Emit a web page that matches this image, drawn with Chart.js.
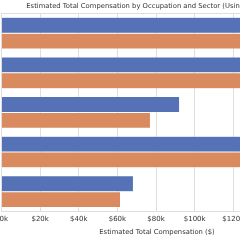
<!DOCTYPE html>
<html>
<head>
<meta charset="utf-8">
<script src="https://cdn.jsdelivr.net/npm/chart.js@4/dist/chart.umd.min.js"></script>
<style>
  html, body { margin: 0; padding: 0; background: #fff; }
  #frame { position: relative; width: 240px; height: 240px; overflow: hidden; }
  #wrap { position: absolute; left: -40px; top: 0; width: 370px; height: 240px; }
</style>
</head>
<body>
<div id="frame"><div id="wrap"><canvas id="chart"></canvas></div></div>
<script>
// occupations (their labels sit off the visible crop, to the left)
const occupations = ['Physicians', 'Lawyers', 'Registered Nurses', 'Engineers', 'Teachers'];
const sectors = ['Private Sector', 'Public Sector'];
const privateComp = [154000, 141000, 92200, 150000, 68300];
const publicComp = [147000, 134000, 77100, 132000, 61600];
const tickValues = [0, 20000, 40000, 60000, 80000, 100000, 120000, 140000, 160000];

const FONT = 'DejaVu Sans';
const TEXT = '#333333';
const GRID = '#dedede';

new Chart(document.getElementById('chart'), {
  type: 'bar',
  data: {
    labels: occupations,
    datasets: [
      {
        label: sectors[0],
        data: privateComp,
        backgroundColor: '#5572b6',
        borderColor: 'rgba(255,255,255,0.7)',
        borderWidth: 0.5
      },
      {
        label: sectors[1],
        data: publicComp,
        backgroundColor: '#d98a5e',
        borderColor: 'rgba(255,255,255,0.7)',
        borderWidth: 0.5
      }
    ]
  },
  options: {
    indexAxis: 'y',
    responsive: true,
    maintainAspectRatio: false,
    animation: false,
    layout: { padding: { left: 41.5, right: 17.5, top: 0, bottom: 4 } },
    datasets: { bar: { categoryPercentage: 0.8, barPercentage: 1.0 } },
    plugins: {
      legend: { display: false },
      tooltip: { enabled: false },
      title: {
        display: true,
        text: 'Estimated Total Compensation by Occupation and Sector (Using Median Pay)',
        color: TEXT,
        font: { family: FONT, size: 6.8, weight: 'normal' },
        padding: { top: 2.5, bottom: 2.7 }
      }
    },
    scales: {
      x: {
        type: 'linear',
        min: 0,
        max: 161000,
        afterBuildTicks: (axis) => { axis.ticks = tickValues.map(v => ({ value: v })); },
        grid: { color: GRID, drawTicks: false },
        border: { color: GRID },
        ticks: {
          padding: 4,
          color: TEXT,
          font: { family: FONT, size: 7 },
          callback: (v) => '$' + (v / 1000) + 'k'
        },
        title: {
          display: true,
          text: 'Estimated Total Compensation ($)',
          color: TEXT,
          font: { family: FONT, size: 6.8 },
          padding: { top: 0, bottom: 0 }
        }
      },
      x2: {
        type: 'linear',
        position: 'top',
        min: 0,
        max: 161000,
        grid: { display: false, drawTicks: false },
        border: { color: GRID },
        ticks: { display: false }
      },
      y: {
        display: false
      }
    }
  }
});
</script>
</body>
</html>
